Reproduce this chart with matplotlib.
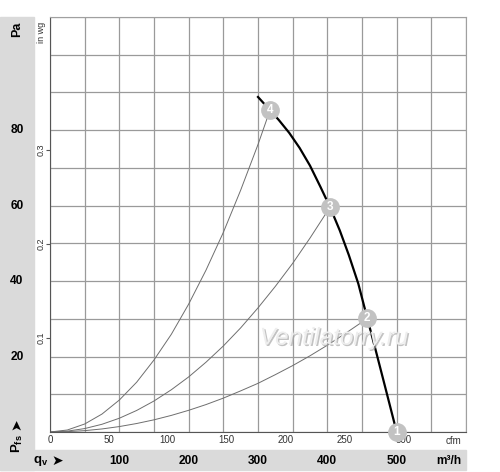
import numpy as np
import matplotlib.pyplot as plt
import matplotlib.transforms as mtransforms
import matplotlib.patheffects as pe
from matplotlib.patches import Rectangle

plt.rcParams['font.family'] = ['Liberation Sans', 'DejaVu Sans']
plt.rcParams['mathtext.fontset'] = 'custom'
plt.rcParams['mathtext.rm'] = 'Liberation Sans'
plt.rcParams['mathtext.bf'] = 'Liberation Sans:bold'

# curva del ventilatore (m3/h, Pa)
fan_q = [300.0, 317.3, 330, 345, 360, 375, 390, 403.9, 418, 431, 444.7, 457.7, 470, 480.8, 490, 500.0]
fan_p = [88.8, 85.3, 82.7, 79.3, 75.3, 70.6, 65.0, 59.6, 53.4, 46.9, 39.3, 30.1, 21.5, 13.8, 7.2, 0.0]

# curve di impianto
imp4_q = [0, 25, 50, 75, 100, 125, 150, 175, 200, 225, 250, 275, 300, 317.3]
imp4_p = [0, 0.53, 2.12, 4.76, 8.47, 13.2, 19.1, 25.9, 33.9, 42.9, 52.9, 64.1, 76.2, 85.3]
imp3_q = [0, 25, 50, 75, 100, 125, 150, 175, 200, 225, 250, 275, 300, 325, 350, 375, 403.9]
imp3_p = [0, 0.23, 0.91, 2.05, 3.65, 5.71, 8.22, 11.2, 14.6, 18.5, 22.8, 27.6, 32.9, 38.6, 44.7, 51.4, 59.6]
imp2_q = [0, 25, 50, 75, 100, 125, 150, 175, 200, 225, 250, 275, 300, 325, 350, 375, 400, 425, 457.7]
imp2_p = [0, 0.09, 0.36, 0.81, 1.44, 2.25, 3.23, 4.40, 5.75, 7.27, 8.98, 10.9, 12.9, 15.2, 17.6, 20.2, 23.0, 26.0, 30.1]

# punti di lavoro
punti_q = [500.0, 457.7, 403.9, 317.3]
punti_p = [0.0, 30.1, 59.6, 85.3]
punti_lab = ["1", "2", "3", "4"]

pa_ticks = [20, 40, 60, 80]
m3h_ticks = [100, 200, 300, 400, 500]
cfm_ticks = [0, 50, 100, 150, 200, 250, 300]
inwg_ticks = [0.1, 0.2, 0.3]

W, H = 500, 472
fig = plt.figure(figsize=(W / 100, H / 100), dpi=100)
banda = "#dadada"
fig.patches.append(Rectangle((0, 1 - 470 / H), 34 / W, (470 - 17) / H,
                             transform=fig.transFigure, color=banda, zorder=-1))
fig.patches.append(Rectangle((0, 1 - 470 / H), 466 / W, 20 / H,
                             transform=fig.transFigure, color=banda, zorder=-1))

ax = fig.add_axes([50 / W, 1 - 432 / H, 416 / W, 415 / H])
ax.set_xlim(0, 600)
ax.set_ylim(0, 110)
ax.set_xticks(np.arange(0, 601, 50))
ax.set_yticks(np.arange(0, 111, 10))
ax.tick_params(length=0, labelbottom=False, labelleft=False)
ax.grid(color="#9a9a9a", lw=0.9)
ax.set_axisbelow(True)
for s in ["left", "bottom"]:
    ax.spines[s].set_color("#555555")
for s in ["top", "right"]:
    ax.spines[s].set_color("#a0a0a0")

# asse cfm
sec_x = ax.secondary_xaxis("bottom", functions=(lambda q: q / 1.699, lambda c: c * 1.699))
sec_x.set_xticks(cfm_ticks)
sec_x.tick_params(length=0, pad=2.5, labelsize=7, labelcolor="#333333")
sec_x.spines["bottom"].set_visible(False)

# asse in wg
sec_y = ax.secondary_yaxis("left", functions=(lambda p: p / 249.09, lambda w: w * 249.09))
sec_y.set_yticks(inwg_ticks)
sec_y.set_yticklabels([str(v) for v in inwg_ticks], rotation=90, va="center")
sec_y.tick_params(direction="out", length=3, pad=0, labelsize=6.5, color="#555555", labelcolor="#333333")
sec_y.spines["left"].set_visible(False)

# curve
ax.plot(imp4_q, imp4_p, color="#6e6e6e", lw=0.7)
ax.plot(imp3_q, imp3_p, color="#6e6e6e", lw=0.7)
ax.plot(imp2_q, imp2_p, color="#6e6e6e", lw=0.7)
ax.plot(fan_q, fan_p, color="black", lw=1.6)
ax.plot(punti_q, punti_p, "o", ms=12.5, mfc="#c2c2c2", mec="#c2c2c2", clip_on=False, zorder=5)
for q, p, t in zip(punti_q, punti_p, punti_lab):
    ax.text(q, p, t, color="white", fontsize=8.5, fontweight="bold",
            ha="center", va="center", zorder=6, clip_on=False)

ax.text(409.6, 24.9, "Ventilatorry.ru", style="italic", fontsize=17.5, color="#eeeeee",
        ha="center", va="center", zorder=4,
        path_effects=[pe.withSimplePatchShadow(offset=(1, -1), shadow_rgbFace="#a8a8a8", alpha=0.7)])

# etichette nelle bande
tr_y = mtransforms.blended_transform_factory(fig.transFigure, ax.transData)
for v in pa_ticks:
    ax.text(17 / W, v, str(v), transform=tr_y, ha="center", va="center",
            fontsize=8.6, fontweight="bold")
tr_x = mtransforms.blended_transform_factory(ax.transData, fig.transFigure)
for v in m3h_ticks:
    ax.text(v, 1 - 461 / H, str(v), transform=tr_x, ha="center", va="center",
            fontsize=8.6, fontweight="bold")

fig.text(17 / W, 1 - 29 / H, "Pa", rotation=90, ha="center", va="center",
         fontsize=9, fontweight="bold")
fig.text(42 / W, 1 - 32 / H, "in wg", rotation=90, ha="center", va="center",
         fontsize=6.5, color="#333333")
fig.text(17 / W, 1 - 453 / H, r"$\mathbf{P_{fs}}$", rotation=90, ha="center", va="bottom",
         fontsize=9.5)
fig.text(16 / W, 1 - 424 / H, "➤", rotation=90, ha="center", va="center",
         fontsize=10, family="DejaVu Sans")
fig.text(33 / W, 1 - 461 / H, r"$\mathbf{q_{v}}$", ha="left", va="center", fontsize=9.5)
fig.text(57 / W, 1 - 461 / H, "➤", ha="center", va="center", fontsize=10, family="DejaVu Sans")
fig.text(461 / W, 1 - 461 / H, "m³/h", ha="right", va="center", fontsize=8.6, fontweight="bold")
fig.text(461 / W, 1 - 441 / H, "cfm", ha="right", va="center", fontsize=7, color="#333333")

fig.savefig("out.png", dpi=100)
